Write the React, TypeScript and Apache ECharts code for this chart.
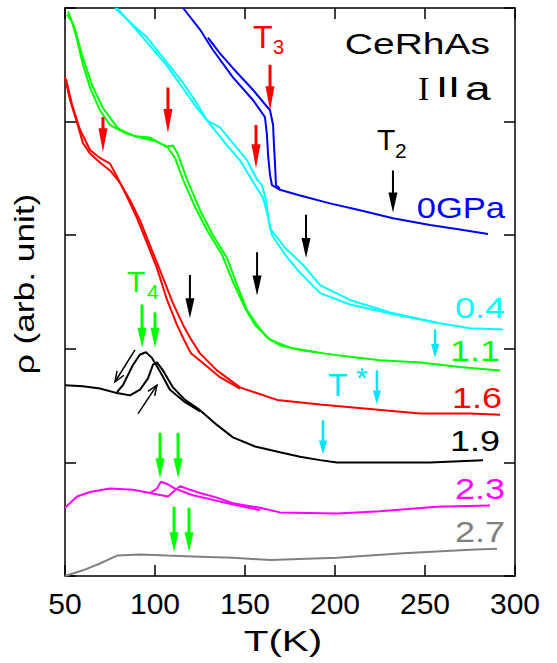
import React, { useEffect, useRef } from "react";
import * as echarts from "echarts";

// ---- axis ticks ----
const xTicks = [50, 100, 150, 200, 250, 300];

// ---- curves: [T (K), rho (arb. unit)] ----
const p0GPa_a = [[115.6,5.0],[125,4.81],[132.2,4.63],[143.3,4.39],[154.4,4.19],[161.1,4.04],[162.2,3.88],[162.8,3.71],[163.9,3.53],[165,3.44],[169.4,3.40],[180.6,3.35],[197.2,3.28],[213.9,3.22],[232.2,3.15],[252.8,3.09],[269.4,3.05],[285,3.01]];
const p0GPa_b = [[129.4,4.74],[136.1,4.60],[143.3,4.47],[154.4,4.28],[163.9,4.10],[165.6,3.97],[166.1,3.79],[166.7,3.62],[167.2,3.44],[169.4,3.41]];

const p04_a = [[77.8,5.0],[87.8,4.85],[95.6,4.74],[106.7,4.52],[115.6,4.34],[123.3,4.16],[128.9,4.01],[136.1,3.95],[143.3,3.81],[151.1,3.66],[156.7,3.49],[159.4,3.44],[161.7,3.31],[162.8,3.18],[163.9,3.06],[172.2,2.89],[182.2,2.74],[191.7,2.56],[208.3,2.43],[230.6,2.32],[256.7,2.23],[275,2.18],[293.3,2.17]];
const p04_b = [[78.9,5.0],[88.9,4.82],[106.7,4.49],[123.3,4.12],[140,3.79],[147.2,3.66],[154.4,3.47],[160,3.33],[162.2,3.20],[165,3.0],[172.2,2.83],[179.4,2.69],[191.7,2.49],[208.3,2.39],[230.6,2.31],[256.7,2.23]];

const p11_a = [[51.1,4.94],[53.9,4.88],[56.7,4.72],[60,4.50],[63.9,4.30],[69.4,4.10],[75,3.97],[83.3,3.90],[91.7,3.86],[100,3.83],[106.7,3.78],[110,3.79],[112.8,3.71],[117.8,3.49],[125,3.22],[132.2,3.0],[140,2.80],[145.6,2.56],[151.1,2.34],[156.7,2.21],[162.2,2.10],[169.4,2.03],[180.6,1.99],[202.8,1.94],[225,1.90],[247.2,1.88],[269.4,1.84],[291.7,1.81]];
const p11_b = [[51.7,4.97],[55.6,4.81],[59.4,4.59],[65,4.32],[71.1,4.12],[79.4,3.94],[88.9,3.87],[97.2,3.86],[102.8,3.81],[107.2,3.77],[111.1,3.68],[115.6,3.49],[122.2,3.25],[129.4,3.03],[137.2,2.83],[143.3,2.59],[150,2.36],[155.6,2.21],[163.9,2.08],[175,2.01],[190,1.97]];

const p16_a = [[50,4.39],[52.8,4.19],[56.7,3.99],[60,3.81],[63.9,3.72],[69.4,3.64],[75,3.57],[80.6,3.46],[86.1,3.31],[91.7,3.13],[97.2,2.91],[102.8,2.69],[110,2.40],[115.6,2.21],[119.4,2.10],[125,1.96],[134.4,1.81],[147.2,1.66],[167.8,1.55],[191.7,1.51],[219.4,1.47],[247.2,1.43],[275,1.43],[291.7,1.42]];
const p16_b = [[50.6,4.37],[53.9,4.15],[58.3,3.93],[63.9,3.75],[69.4,3.68],[75,3.63],[79.4,3.50],[84.4,3.34],[90,3.15],[95.6,2.93],[101.1,2.71],[106.7,2.43],[112.2,2.21],[116.1,2.08],[120,1.96],[127.8,1.86],[136.1,1.75],[147.2,1.65]];

const p19_a = [[50,1.68],[60,1.67],[69.4,1.65],[78.9,1.61],[86.1,1.59],[91.7,1.64],[96.1,1.74],[98.9,1.86],[101.1,1.88],[104.4,1.81],[110,1.66],[116.7,1.55],[125,1.46],[134.4,1.33],[143.3,1.22],[155.6,1.14],[169.4,1.09],[180.6,1.05],[191.7,1.02],[201.1,1.0],[225,1.0],[252.8,1.0],[282.2,1.02]];
const p19_b = [[78.9,1.62],[82.2,1.68],[87.8,1.86],[91.7,1.95],[95,1.97],[98.3,1.92],[102.8,1.80],[108.3,1.64],[116.7,1.53],[125,1.45]];

const p23_a = [[50,0.60],[56.7,0.70],[63.9,0.74],[75,0.77],[87.8,0.76],[97.2,0.73],[107.2,0.70],[110,0.74],[113.9,0.79],[119.4,0.76],[125,0.73],[134.4,0.69],[143.3,0.64],[158.3,0.60],[169.4,0.56],[201.1,0.55],[225,0.57],[256.7,0.61],[286.1,0.62]];
const p23_b = [[97.2,0.73],[101.1,0.77],[103.3,0.83],[106.7,0.81],[111.1,0.77],[121.1,0.71],[132.2,0.67],[143.3,0.63],[158.3,0.58]];

const p27 = [[50,0.0],[60,0.05],[69.4,0.11],[78.9,0.18],[91.7,0.19],[106.7,0.18],[125,0.17],[143.3,0.16],[163.9,0.14],[201.1,0.16],[237.8,0.20],[275,0.23],[290,0.24]];

// ---- arrows: [T, rho start, rho tip] ----
const t3Arrows = [[71.1,4.04,3.73],[107.2,4.30,3.90],[156.1,3.97,3.59],[163.9,4.50,4.10]];
const t2Arrows = [[232.2,3.57,3.20],[183.9,3.18,2.80],[156.7,2.85,2.47],[119.4,2.65,2.27]];
const t4Arrows = [[92.8,2.39,2.01],[100,2.32,2.01],[102.8,1.26,0.86],[112.8,1.26,0.86],[110.6,0.61,0.21],[118.9,0.60,0.21]];
const tStarArrows = [[255.6,2.17,1.92],[223.3,1.81,1.51],[193.3,1.37,1.07]];
// hysteresis arrows: [T start, rho start, T tip, rho tip]
const hystArrows = [[88.9,1.99,77.8,1.71],[90.6,1.43,101.1,1.68]];

const FONT = "Liberation Sans, Arial, Helvetica, sans-serif";
const SERIF = "Liberation Serif, Times New Roman, serif";

function lineSeries(data: number[][], color: string) {
  return {
    type: "line",
    data,
    showSymbol: false,
    symbol: "none",
    silent: true,
    lineStyle: { color, width: 2 },
    z: 2,
  };
}

function arrowSeries(data: number[][], color: string, width: number, headLen: number, headW: number) {
  return {
    type: "custom",
    silent: true,
    encode: { x: 0, y: [1, 2] },
    data,
    z: 5,
    renderItem: (_params: any, api: any) => {
      const x = api.value(0);
      const p1 = api.coord([x, api.value(1)]);
      const p2 = api.coord([x, api.value(2)]);
      const dir = p2[1] > p1[1] ? 1 : -1;
      const baseY = p2[1] - dir * headLen;
      return {
        type: "group",
        children: [
          { type: "line", shape: { x1: p1[0], y1: p1[1], x2: p2[0], y2: baseY + dir * 2 }, style: { stroke: color, lineWidth: width } },
          { type: "polygon", shape: { points: [[p2[0] - headW / 2, baseY], [p2[0] + headW / 2, baseY], [p2[0], p2[1]]] }, style: { fill: color } },
        ],
      };
    },
  };
}

function hystSeries(data: number[][], color: string) {
  return {
    type: "custom",
    silent: true,
    encode: { x: [0, 2], y: [1, 3] },
    data,
    z: 5,
    renderItem: (_params: any, api: any) => {
      const p1 = api.coord([api.value(0), api.value(1)]);
      const p2 = api.coord([api.value(2), api.value(3)]);
      const ang = Math.atan2(p1[1] - p2[1], p1[0] - p2[0]);
      const L = 11;
      const a1 = ang + 0.38;
      const a2 = ang - 0.38;
      return {
        type: "group",
        children: [
          { type: "line", shape: { x1: p1[0], y1: p1[1], x2: p2[0], y2: p2[1] }, style: { stroke: color, lineWidth: 1.5 } },
          { type: "polyline", shape: { points: [[p2[0] + L * Math.cos(a1), p2[1] + L * Math.sin(a1)], [p2[0], p2[1]], [p2[0] + L * Math.cos(a2), p2[1] + L * Math.sin(a2)]] }, style: { stroke: color, lineWidth: 1.5, fill: null } },
        ],
      };
    },
  };
}

function label(text: string, x: number, y: number, color: string, size: number, align: string, sx = 1, family = FONT) {
  return {
    type: "text",
    x,
    y,
    scaleX: sx,
    silent: true,
    z: 10,
    style: { text, fill: color, font: `${size}px ${family}`, align, verticalAlign: "middle" },
  };
}

export default function App() {
  const ref = useRef<HTMLDivElement>(null);
  useEffect(() => {
    if (!ref.current) return;
    const chart = echarts.init(ref.current, null, { renderer: "svg" });
    const axisCommon = {
      type: "value",
      axisLine: { show: true, onZero: false, lineStyle: { color: "#000", width: 1.5 } },
      axisTick: { show: true, inside: true, length: 11, lineStyle: { color: "#000", width: 1.5 } },
      splitLine: { show: false },
    };
    chart.setOption({
      animation: false,
      backgroundColor: "#fff",
      grid: { left: 65, right: 42, top: 8, bottom: 87 },
      xAxis: [
        {
          ...axisCommon,
          min: xTicks[0],
          max: xTicks[xTicks.length - 1],
          interval: 50,
          position: "bottom",
          axisLabel: { fontSize: 30, color: "#000", margin: 12, fontFamily: FONT },
        },
        {
          ...axisCommon,
          min: xTicks[0],
          max: xTicks[xTicks.length - 1],
          interval: 50,
          position: "top",
          axisLabel: { show: false },
        },
      ],
      yAxis: [
        { ...axisCommon, min: 0, max: 5, interval: 1, position: "left", axisLabel: { show: false } },
        { ...axisCommon, min: 0, max: 5, interval: 1, position: "right", axisLabel: { show: false } },
      ],
      series: [
        lineSeries(p27, "#808080"),
        lineSeries(p23_a, "#ff00ff"),
        lineSeries(p23_b, "#ff00ff"),
        lineSeries(p19_a, "#000000"),
        lineSeries(p19_b, "#000000"),
        lineSeries(p16_a, "#ff0000"),
        lineSeries(p16_b, "#ff0000"),
        lineSeries(p11_a, "#00ff00"),
        lineSeries(p11_b, "#00ff00"),
        lineSeries(p04_a, "#00ffff"),
        lineSeries(p04_b, "#00ffff"),
        lineSeries(p0GPa_a, "#0000ff"),
        lineSeries(p0GPa_b, "#0000ff"),
        arrowSeries(t3Arrows, "#ff0000", 3, 24, 9),
        arrowSeries(t2Arrows, "#000000", 2, 20, 9),
        arrowSeries(t4Arrows, "#00ff00", 3, 20, 9),
        arrowSeries(tStarArrows, "#00e5ff", 2.5, 14, 8),
        hystSeries(hystArrows, "#000000"),
      ],
      graphic: [
        label("CeRhAs", 490, 44, "#000", 30, "right", 1.3),
        label("I", 418, 88, "#000", 34, "left", 1.0, SERIF),
        label("II", 436, 87, "#000", 30, "left", 1.45),
        label("a", 465, 89, "#000", 33, "left", 1.4),
        label("T", 253, 37, "#ff0000", 32, "left"),
        label("3", 273, 47, "#ff0000", 20, "left"),
        label("T", 377, 139, "#000", 30, "left"),
        label("2", 395, 150, "#000", 21, "left"),
        label("T", 127, 281, "#00ff00", 30, "left"),
        label("4", 147, 291, "#00ff00", 21, "left"),
        label("T", 328, 385, "#00e5ff", 32, "left"),
        label("*", 356, 377, "#00e5ff", 30, "left"),
        label("0GPa", 505, 208, "#0000ff", 29, "right", 1.19),
        label("0.4", 505, 308, "#00ffff", 30, "right", 1.2),
        label("1.1", 500, 351, "#00ff00", 30, "right", 1.2),
        label("1.6", 502, 398, "#ff0000", 30, "right", 1.2),
        label("1.9", 500, 441, "#000000", 30, "right", 1.2),
        label("2.3", 505, 489, "#ff00ff", 30, "right", 1.2),
        label("2.7", 505, 532, "#808080", 30, "right", 1.2),
        label("T(K)", 283, 641, "#000", 30, "center", 1.35),
        {
          type: "text",
          x: 24,
          y: 284,
          rotation: Math.PI / 2,
          scaleX: 1.26,
          silent: true,
          style: { text: "ρ (arb. unit)", fill: "#000", font: `28px ${FONT}`, align: "center", verticalAlign: "middle" },
        },
      ],
    });
    return () => chart.dispose();
  }, []);
  return <div ref={ref} style={{ position: "absolute", left: 0, top: 0, width: 557, height: 663 }} />;
}
